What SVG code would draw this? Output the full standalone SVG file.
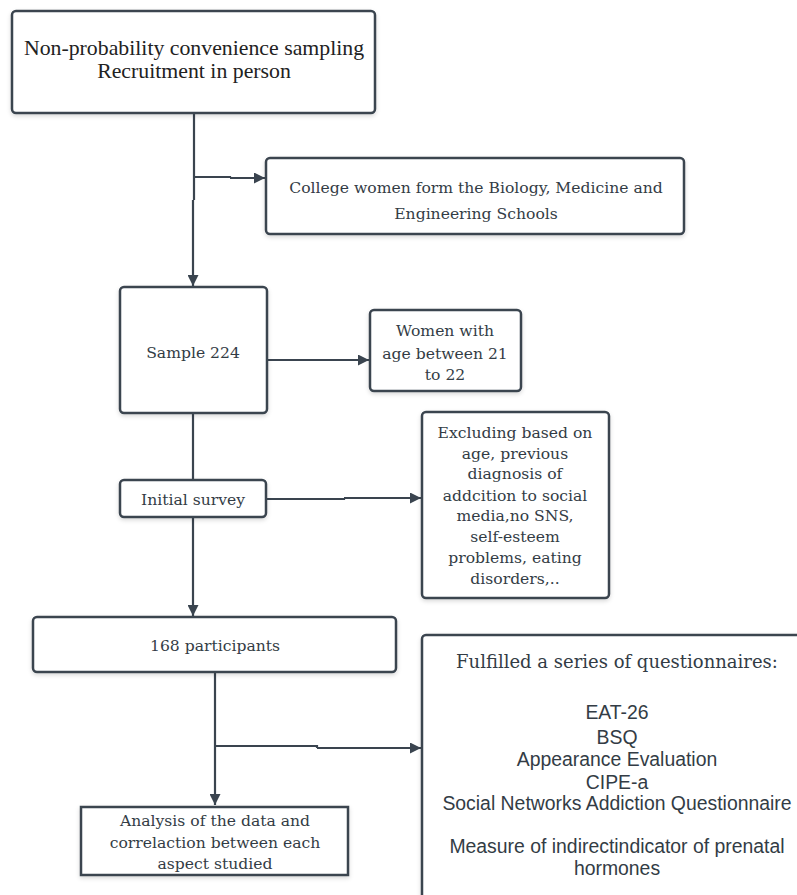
<svg xmlns="http://www.w3.org/2000/svg" width="797" height="895" viewBox="0 0 797 895">
<defs>
<filter id="sh" x="-10%" y="-10%" width="120%" height="130%">
<feDropShadow dx="0" dy="2" stdDeviation="2" flood-color="#000" flood-opacity="0.15"/>
</filter>
<marker id="ah" viewBox="0 0 10 10" refX="10" refY="5" markerWidth="5" markerHeight="5" orient="auto" markerUnits="strokeWidth">
<path d="M0,0 L10,5 L0,10 z" fill="#3a444f"/>
</marker>
<style>
.box{fill:#fff;stroke:#3a444f;stroke-width:2.5;filter:url(#sh)}
.c{fill:none;stroke:#3a444f;stroke-width:2.2}
.ca{fill:none;stroke:#3a444f;stroke-width:2.2;marker-end:url(#ah)}
.t{font-family:"DejaVu Serif","Liberation Serif",serif;font-size:15.6px;fill:#333c45;text-anchor:middle}
.g{font-family:"Liberation Serif",serif;font-size:21.8px;fill:#222;text-anchor:middle}
.s{font-family:"Liberation Sans",Arial,sans-serif;font-size:19.4px;fill:#333c45;text-anchor:middle}
</style>
</defs>
<g id="connectors">
<path class="c" d="M194,113 V200"/>
<path class="ca" d="M193,200 V286"/>
<path class="c" d="M194,177 H230 V178"/>
<path class="ca" d="M230,178 H265"/>
<path class="ca" d="M267,360 H369"/>
<path class="c" d="M193,413 V480"/>
<path class="c" d="M266,499 H344 V498"/>
<path class="ca" d="M344,498 H421"/>
<path class="ca" d="M193,517 V616"/>
<path class="ca" d="M215,672 V805"/>
<path class="c" d="M215,746 H317 V748"/>
<path class="ca" d="M317,748 H421"/>
</g>
<g id="n1">
<rect class="box" x="12" y="11" width="363" height="102" rx="4"/>
<text class="g" x="194" y="55">Non-probability convenience sampling</text>
<text class="g" x="194" y="78">Recruitment in person</text>
</g>
<g id="n2">
<rect class="box" x="266" y="158" width="418" height="76" rx="4"/>
<text class="t" x="476" y="193">College women form the Biology, Medicine and</text>
<text class="t" x="476" y="219">Engineering Schools</text>
</g>
<g id="n3">
<rect class="box" x="120" y="287" width="147" height="126" rx="4"/>
<text class="t" x="193" y="358">Sample 224</text>
</g>
<g id="n4">
<rect class="box" x="370" y="310" width="151" height="81" rx="4"/>
<text class="t" x="445" y="336">Women with</text>
<text class="t" x="445" y="359">age between 21</text>
<text class="t" x="445" y="380">to 22</text>
</g>
<g id="n5">
<rect class="box" x="120" y="480" width="146" height="37" rx="4"/>
<text class="t" x="193" y="505">Initial survey</text>
</g>
<g id="n6">
<rect class="box" x="422" y="412" width="187" height="186" rx="4"/>
<text class="t" x="515" y="438">Excluding based on</text>
<text class="t" x="515" y="459">age, previous</text>
<text class="t" x="515" y="479">diagnosis of</text>
<text class="t" x="515" y="501">addcition to social</text>
<text class="t" x="515" y="521">media,no SNS,</text>
<text class="t" x="515" y="542">self-esteem</text>
<text class="t" x="515" y="563">problems, eating</text>
<text class="t" x="515" y="584">disorders,..</text>
</g>
<g id="n7">
<rect class="box" x="33" y="617" width="363" height="55" rx="4"/>
<text class="t" x="215" y="651">168 participants</text>
</g>
<g id="n8">
<rect class="box" x="81" y="807" width="267" height="68" rx="0"/>
<text class="t" x="215" y="826">Analysis of the data and</text>
<text class="t" x="215" y="848">correlaction between each</text>
<text class="t" x="215" y="869">aspect studied</text>
</g>
<g id="n9">
<rect class="box" x="422" y="635" width="400" height="290" rx="4"/>
<text class="t" x="617" y="668" style="font-size:18px">Fulfilled a series of questionnaires:</text>
<text class="s" x="617" y="719">EAT-26</text>
<text class="s" x="617" y="744">BSQ</text>
<text class="s" x="617" y="766">Appearance Evaluation</text>
<text class="s" x="617" y="789">CIPE-a</text>
<text class="s" x="617" y="810">Social Networks Addiction Questionnaire</text>
<text class="s" x="617" y="853">Measure of indirectindicator of prenatal</text>
<text class="s" x="617" y="875">hormones</text>
</g>
</svg>
